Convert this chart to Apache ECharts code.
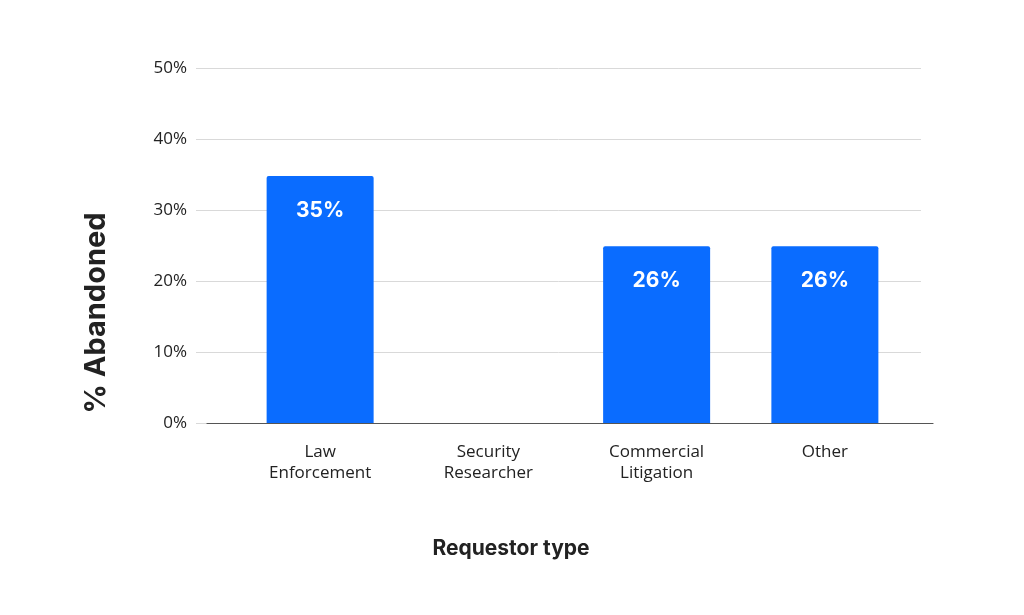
<!DOCTYPE html>
<html lang="en">
<head>
    <meta charset="UTF-8">
    <title>% Abandoned by requestor type</title>
    <style>
        html, body { margin: 0; padding: 0; background: #fff; }
        #chart { width: 1024px; height: 615px; }
    </style>
</head>
<body>
<div id="chart"></div>
<script src="https://cdn.jsdelivr.net/npm/echarts@6/dist/echarts.min.js"></script>
<script>
    // data
    var categories = ['Law\nEnforcement', 'Security\nResearcher', 'Commercial\nLitigation', 'Other'];
    var abandoned = [34.8, 0, 24.9, 24.9];
    var barLabels = ['35%', '', '26%', '26%'];
    var yTicks = [0, 10, 20, 30, 40, 50];

    var myChart = echarts.init(document.getElementById('chart'));

    var option = {
        backgroundColor: '#ffffff',
        textStyle: { fontFamily: 'Open Sans' },
        grid: [
            // gridlines + y labels
            { left: 196, right: 103, top: 68, bottom: 192 },
            // bars
            { left: 236, right: 115, top: 68, bottom: 192 },
            // baseline
            { left: 207, right: 91, top: 68, bottom: 192 }
        ],
        xAxis: [
            { type: 'category', gridIndex: 0, data: categories, show: false },
            {
                type: 'category', gridIndex: 1, data: categories,
                axisLine: { show: false },
                axisTick: { show: false },
                axisLabel: {
                    color: '#222',
                    fontSize: 17,
                    lineHeight: 21,
                    margin: 19,
                    fontFamily: 'Open Sans'
                }
            },
            {
                type: 'category', gridIndex: 2, data: categories,
                axisLine: { lineStyle: { color: '#555', width: 1.2 } },
                axisTick: { show: false },
                axisLabel: { show: false }
            }
        ],
        yAxis: [
            {
                type: 'value', gridIndex: 0,
                min: yTicks[0], max: yTicks[yTicks.length - 1], interval: 10,
                axisLine: { show: false },
                axisTick: { show: false },
                axisLabel: {
                    formatter: '{value}%',
                    color: '#222',
                    fontSize: 17,
                    margin: 9,
                    fontFamily: 'Open Sans'
                },
                splitLine: { lineStyle: { color: '#d9d9d9', width: 1 } }
            },
            {
                type: 'value', gridIndex: 1,
                min: yTicks[0], max: yTicks[yTicks.length - 1], interval: 10,
                show: false, splitLine: { show: false }
            },
            {
                type: 'value', gridIndex: 2,
                min: yTicks[0], max: yTicks[yTicks.length - 1], interval: 10,
                show: false, splitLine: { show: false }
            }
        ],
        series: [
            {
                type: 'bar',
                xAxisIndex: 1,
                yAxisIndex: 1,
                data: abandoned,
                barWidth: 107,
                itemStyle: { color: '#0a6cff', borderRadius: [2, 2, 0, 0] },
                label: {
                    show: true,
                    position: 'insideTop',
                    distance: 24,
                    color: '#fff',
                    fontSize: 21,
                    fontWeight: 'bold',
                    fontFamily: 'Inter',
                    formatter: function (p) { return barLabels[p.dataIndex]; }
                },
                silent: true
            }
        ],
        graphic: [
            {
                type: 'text',
                x: 96, y: 313,
                rotation: Math.PI / 2,
                style: {
                    text: '% Abandoned',
                    fontSize: 29,
                    fontWeight: 'bold',
                    fontFamily: 'Inter',
                    fill: '#222',
                    align: 'center',
                    verticalAlign: 'middle'
                }
            },
            {
                type: 'text',
                x: 511, y: 549,
                style: {
                    text: 'Requestor type',
                    fontSize: 21,
                    fontWeight: 'bold',
                    fontFamily: 'Inter',
                    fill: '#222',
                    align: 'center',
                    verticalAlign: 'middle'
                }
            }
        ]
    };

    myChart.setOption(option);
</script>
</body>
</html>
